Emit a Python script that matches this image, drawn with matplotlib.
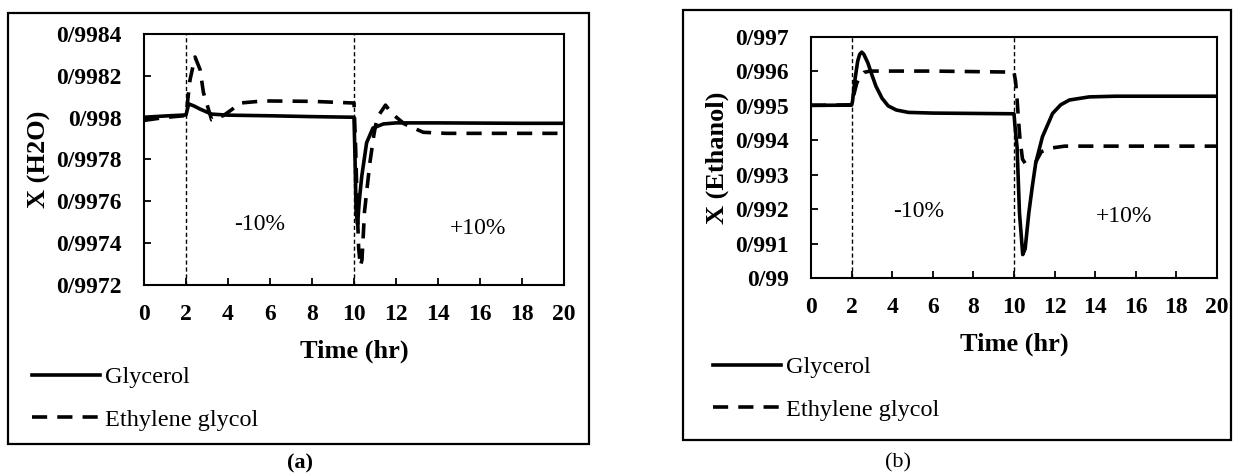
import matplotlib
matplotlib.use("Agg")
import matplotlib.pyplot as plt
from matplotlib.patches import Rectangle
from matplotlib.lines import Line2D

plt.rcParams['font.family'] = ['Liberation Serif', 'DejaVu Serif']

# ---------------- data ----------------
x_ticks = [0, 2, 4, 6, 8, 10, 12, 14, 16, 18, 20]
x_tick_labels = ['0', '2', '4', '6', '8', '10', '12', '14', '16', '18', '20']

a_y_ticks = [0.9972, 0.9974, 0.9976, 0.9978, 0.9980, 0.9982, 0.9984]
a_y_tick_labels = ['0/9972', '0/9974', '0/9976', '0/9978', '0/998', '0/9982', '0/9984']

b_y_ticks = [0.990, 0.991, 0.992, 0.993, 0.994, 0.995, 0.996, 0.997]
b_y_tick_labels = ['0/99', '0/991', '0/992', '0/993', '0/994', '0/995', '0/996', '0/997']

series_names = ['Glycerol', 'Ethylene glycol']

a_gly_t = [0, 1, 2, 2.13, 2.4, 2.67, 3.22, 4, 6, 8, 10, 10.05, 10.1, 10.17, 10.25,
           10.37, 10.6, 10.9, 11.4, 12, 14, 16, 18, 20]
a_gly_v = [0.998002, 0.998008, 0.998013, 0.998066, 0.998055, 0.998041, 0.998017,
           0.998012, 0.998009, 0.998005, 0.998002, 0.99780, 0.99755, 0.99749,
           0.99760, 0.99772, 0.99788, 0.99795, 0.99797, 0.997975, 0.997975,
           0.997974, 0.997973, 0.997973]

a_eg_t = [0, 1, 2, 2.19, 2.43, 2.67, 2.83, 3.22, 3.78, 4.2, 4.57, 5.7, 8, 10,
          10.08, 10.15, 10.22, 10.3, 10.38, 10.5, 10.75, 10.95, 11.1, 11.5,
          11.8, 12.4, 13.3, 14.4, 16, 18, 20]
a_eg_v = [0.997987, 0.998001, 0.99801, 0.99818, 0.99829, 0.99823, 0.99812,
          0.99799, 0.99801, 0.99804, 0.99807, 0.99808, 0.998078, 0.99807,
          0.99785, 0.99758, 0.99738, 0.99729, 0.99732, 0.99755, 0.99778,
          0.99792, 0.99800, 0.99806, 0.99802, 0.99797, 0.99793, 0.997925,
          0.997925, 0.997925, 0.997925]

b_gly_t = [0, 1, 2, 2.05, 2.15, 2.3, 2.4, 2.5, 2.6, 2.8, 3.0, 3.2, 3.5, 3.8,
           4.2, 4.8, 6, 8, 10, 10.05, 10.15, 10.27, 10.43, 10.55, 10.73, 10.9,
           11.07, 11.4, 11.9, 12.3, 12.73, 13.7, 15, 20]
b_gly_v = [0.995016, 0.995018, 0.99502, 0.99515, 0.99570, 0.99630, 0.99650,
           0.99656, 0.99650, 0.99625, 0.99590, 0.99557, 0.99522, 0.99500,
           0.99488, 0.99481, 0.99479, 0.99478, 0.99477, 0.99440, 0.99381,
           0.99189, 0.99068, 0.99085, 0.99189, 0.99265, 0.99334, 0.99410,
           0.99478, 0.99503, 0.99517, 0.99526, 0.99528, 0.99528]

b_eg_t = [0, 1, 2, 2.1, 2.25, 2.4, 2.6, 2.9, 6, 10, 10.08, 10.15, 10.22, 10.3,
          10.42, 10.55, 10.8, 11.05, 11.35, 11.9, 12.5, 16, 20]
b_eg_v = [0.995016, 0.995018, 0.99503, 0.99530, 0.99565, 0.99585, 0.99597,
          0.99601, 0.99601, 0.99598, 0.99570, 0.99520, 0.99460, 0.99400,
          0.99345, 0.99333, 0.99332, 0.99335, 0.99367, 0.99378, 0.99383,
          0.99383, 0.99383]

step_times = [2, 10]
a_notes = [(5.5, 0.99749, '-10%'), (15.9, 0.99747, '+10%')]
b_notes = [(5.3, 0.99193, '-10%'), (15.4, 0.99178, '+10%')]

# ---------------- figure ----------------
W, H = 1233, 474
fig = plt.figure(figsize=(W / 100, H / 100), dpi=100)


def fx(px):
    return px / W


def fy(py):
    return 1 - py / H


def box(x0, y0, x1, y1):
    fig.add_artist(Rectangle((fx(x0), fy(y1)), fx(x1) - fx(x0), fy(y0) - fy(y1),
                             transform=fig.transFigure, fill=False,
                             edgecolor='black', linewidth=1.6))


box(8, 13, 589, 444)
box(683, 10, 1231, 440)

LW = 2.6
DASH = (4.2, 2.8)


def make_panel(rect, gt, gv, et, ev, yticks, ylabels, ylim, ylabel, notes,
               leg_anchor):
    ax = fig.add_axes(rect)
    ax.plot(gt, gv, color='black', lw=LW, solid_joinstyle='round')
    ax.plot(et, ev, color='black', lw=LW, dashes=DASH)
    for s in step_times:
        ax.axvline(s, color='black', lw=1.0, dashes=(3, 2))
    ax.set_xlim(0, 20)
    ax.set_ylim(*ylim)
    ax.set_xticks(x_ticks)
    ax.set_xticklabels(x_tick_labels, fontsize=17, fontweight='bold')
    ax.set_yticks(yticks)
    ax.set_yticklabels(ylabels, fontsize=17, fontweight='bold')
    ax.tick_params(axis='both', direction='in', length=5, width=1.3)
    ax.tick_params(axis='y', pad=16)
    ax.tick_params(axis='x', pad=14)
    for sp in ax.spines.values():
        sp.set_linewidth(1.5)
    ax.set_xlabel('Time (hr)', fontsize=19, fontweight='bold', labelpad=10)
    ax.set_ylabel(ylabel, fontsize=19, fontweight='bold', labelpad=4)
    for (xt, yt, s) in notes:
        ax.text(xt, yt, s, fontsize=17, ha='center', va='center')
    handles = [Line2D([], [], color='black', lw=LW),
               Line2D([], [], color='black', lw=LW, dashes=DASH)]
    ax.legend(handles, series_names, loc='upper left',
              bbox_to_anchor=leg_anchor, bbox_transform=fig.transFigure,
              frameon=False, fontsize=17.5, handlelength=2.8,
              handletextpad=0.2, labelspacing=0.85, borderpad=0,
              borderaxespad=0)
    return ax


ax_a = make_panel([fx(144), fy(285), fx(564) - fx(144), fy(34) - fy(285)],
                  a_gly_t, a_gly_v, a_eg_t, a_eg_v, a_y_ticks, a_y_tick_labels,
                  (0.9972, 0.9984), 'X (H2O)', a_notes, (fx(32), fy(366)))
ax_b = make_panel([fx(811), fy(278), fx(1217) - fx(811), fy(37) - fy(278)],
                  b_gly_t, b_gly_v, b_eg_t, b_eg_v, b_y_ticks, b_y_tick_labels,
                  (0.990, 0.997), 'X (Ethanol)', b_notes, (fx(713), fy(356)))

fig.text(fx(300), fy(463), '(a)', fontsize=16, fontweight='bold',
         ha='center', va='center')
fig.text(fx(898), fy(463), '(b)', fontsize=16, ha='center', va='center')

fig.savefig('out.png', dpi=100)
